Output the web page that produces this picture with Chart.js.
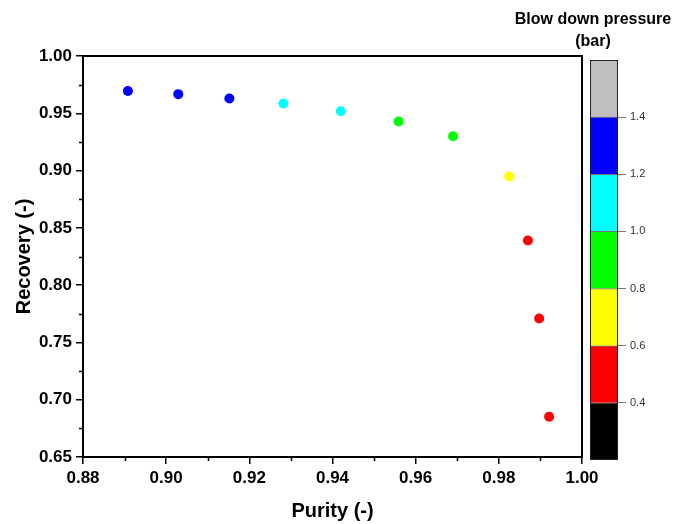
<!DOCTYPE html>
<html lang="en">
<head>
    <meta charset="UTF-8">
    <title>Purity vs Recovery</title>
    <script src="https://cdn.jsdelivr.net/npm/chart.js"></script>
    <style>
        body {
            margin: 0;
            padding: 0;
            background: #fff;
            font-family: "Liberation Sans", Arial, sans-serif;
        }
        #wrap {
            position: relative;
            width: 677px;
            height: 524px;
        }
        #mainChart {
            position: absolute;
            left: 0;
            top: 0;
        }
        #barChart {
            position: absolute;
            left: 560px;
            top: 0;
        }
        #barTitle {
            position: absolute;
            left: 493px;
            top: 8px;
            width: 200px;
            text-align: center;
            font-weight: bold;
            font-size: 16px;
            line-height: 22px;
            color: #000;
        }
    </style>
</head>
<body>
    <div id="wrap">
        <canvas id="mainChart" width="600" height="524"></canvas>
        <canvas id="barChart" width="117" height="524"></canvas>
        <div id="barTitle">Blow down pressure<br>(bar)</div>
    </div>

    <script>
        // purity / recovery for each blow down pressure run
        const purity   = [0.8908, 0.9029, 0.9152, 0.9282, 0.9420, 0.9559, 0.9690, 0.9825, 0.9870, 0.9897, 0.9921];
        const recovery = [0.9695, 0.9667, 0.9629, 0.9586, 0.9518, 0.9428, 0.9300, 0.8949, 0.8390, 0.7709, 0.6851];
        // colour band (index into bandColors) of each point
        const pointBand = [5, 5, 5, 4, 4, 3, 3, 2, 1, 1, 1];

        // colour bar levels (bar) and the colour of each band between them
        const bandEdges  = [0.2, 0.4, 0.6, 0.8, 1.0, 1.2, 1.4, 1.6];
        const bandColors = ['#000000', '#ff0000', '#ffff00', '#00ff00', '#00ffff', '#0000ff', '#c0c0c0'];
        const barTicks   = [0.4, 0.6, 0.8, 1.0, 1.2, 1.4];

        const xMajor = [0.88, 0.90, 0.92, 0.94, 0.96, 0.98, 1.00];
        const xMinor = [0.89, 0.91, 0.93, 0.95, 0.97, 0.99];
        const yMajor = [0.65, 0.70, 0.75, 0.80, 0.85, 0.90, 0.95, 1.00];
        const yMinor = [0.675, 0.725, 0.775, 0.825, 0.875, 0.925, 0.975];

        const FONT = "'Liberation Sans', Arial, sans-serif";

        // box around the plot plus short minor ticks
        const frameAndMinor = {
            id: 'frameAndMinor',
            afterDraw(chart) {
                const c = chart.ctx, a = chart.chartArea;
                const xs = chart.scales.x, ys = chart.scales.y;
                c.save();
                c.strokeStyle = '#000';
                c.lineWidth = 2;
                c.strokeRect(a.left, a.top, a.right - a.left, a.bottom - a.top);
                c.lineWidth = 1.5;
                c.beginPath();
                xMinor.forEach(v => {
                    const px = Math.round(xs.getPixelForValue(v)) + 0.5;
                    c.moveTo(px, a.bottom);
                    c.lineTo(px, a.bottom + 4);
                });
                yMinor.forEach(v => {
                    const py = Math.round(ys.getPixelForValue(v)) + 0.5;
                    c.moveTo(a.left, py);
                    c.lineTo(a.left - 4, py);
                });
                c.stroke();
                c.restore();
            }
        };

        new Chart(document.getElementById('mainChart'), {
            type: 'scatter',
            data: {
                datasets: [{
                    data: purity.map((p, i) => ({ x: p, y: recovery[i] })),
                    pointBackgroundColor: pointBand.map(b => bandColors[b]),
                    pointBorderWidth: 0,
                    pointRadius: 5,
                    pointHoverRadius: 5
                }]
            },
            options: {
                responsive: false,
                animation: false,
                layout: { padding: { top: 56, right: 18, left: 0, bottom: 0 } },
                plugins: {
                    legend: { display: false },
                    tooltip: { enabled: false }
                },
                scales: {
                    x: {
                        type: 'linear',
                        min: 0.88,
                        max: 1.00,
                        afterBuildTicks: s => { s.ticks = xMajor.map(v => ({ value: v })); },
                        afterFit: s => { s.height = 67; s.paddingLeft = 0; s.paddingRight = 0; },
                        grid: { drawOnChartArea: false, tickLength: 7, tickColor: '#000', lineWidth: 1.5 },
                        border: { color: '#000', width: 2 },
                        ticks: {
                            color: '#000',
                            padding: 4,
                            maxRotation: 0,
                            font: { family: FONT, size: 17, weight: 'bold' },
                            callback: v => v.toFixed(2)
                        },
                        title: {
                            display: true,
                            text: 'Purity (-)',
                            color: '#000',
                            padding: { top: 0, bottom: 1 },
                            font: { family: FONT, size: 20, weight: 'bold' }
                        }
                    },
                    y: {
                        type: 'linear',
                        min: 0.65,
                        max: 1.00,
                        afterBuildTicks: s => { s.ticks = yMajor.map(v => ({ value: v })); },
                        afterFit: s => { s.width = 83; s.paddingTop = 0; s.paddingBottom = 0; },
                        grid: { drawOnChartArea: false, tickLength: 7, tickColor: '#000', lineWidth: 1.5 },
                        border: { color: '#000', width: 2 },
                        ticks: {
                            color: '#000',
                            padding: 4,
                            font: { family: FONT, size: 17, weight: 'bold' },
                            callback: v => v.toFixed(2)
                        },
                        title: {
                            display: true,
                            text: 'Recovery (-)',
                            color: '#000',
                            padding: { top: 12, bottom: 0 },
                            font: { family: FONT, size: 20, weight: 'bold' }
                        }
                    }
                }
            },
            plugins: [frameAndMinor]
        });

        // colour bar: one floating bar per pressure band
        const barFrame = {
            id: 'barFrame',
            afterDatasetsDraw(chart) {
                const c = chart.ctx, a = chart.chartArea;
                c.save();
                c.strokeStyle = '#222';
                c.lineWidth = 1;
                c.strokeRect(a.left + 0.5, a.top + 0.5, a.right - a.left - 1, a.bottom - a.top - 1);
                c.restore();
            }
        };

        new Chart(document.getElementById('barChart'), {
            type: 'bar',
            data: {
                labels: ['p'],
                datasets: bandColors.map((col, i) => ({
                    data: [[bandEdges[i], bandEdges[i + 1]]],
                    backgroundColor: col,
                    borderColor: '#777',
                    borderWidth: { top: 1, bottom: 0, left: 0, right: 0 },
                    borderSkipped: false,
                    barPercentage: 1,
                    categoryPercentage: 1
                }))
            },
            options: {
                responsive: false,
                animation: false,
                layout: { padding: { top: 60, left: 30, right: 0, bottom: 64 } },
                plugins: {
                    legend: { display: false },
                    tooltip: { enabled: false }
                },
                scales: {
                    x: { display: false, stacked: true },
                    y: {
                        position: 'right',
                        min: 0.2,
                        max: 1.6,
                        afterBuildTicks: s => { s.ticks = barTicks.map(v => ({ value: v })); },
                        afterFit: s => { s.width = 59; },
                        grid: { drawOnChartArea: false, tickLength: 8, tickColor: '#777', lineWidth: 1 },
                        border: { display: false },
                        ticks: {
                            color: '#333',
                            padding: 4,
                            font: { family: FONT, size: 11 },
                            callback: v => v.toFixed(1)
                        }
                    }
                }
            },
            plugins: [barFrame]
        });
    </script>
</body>
</html>
